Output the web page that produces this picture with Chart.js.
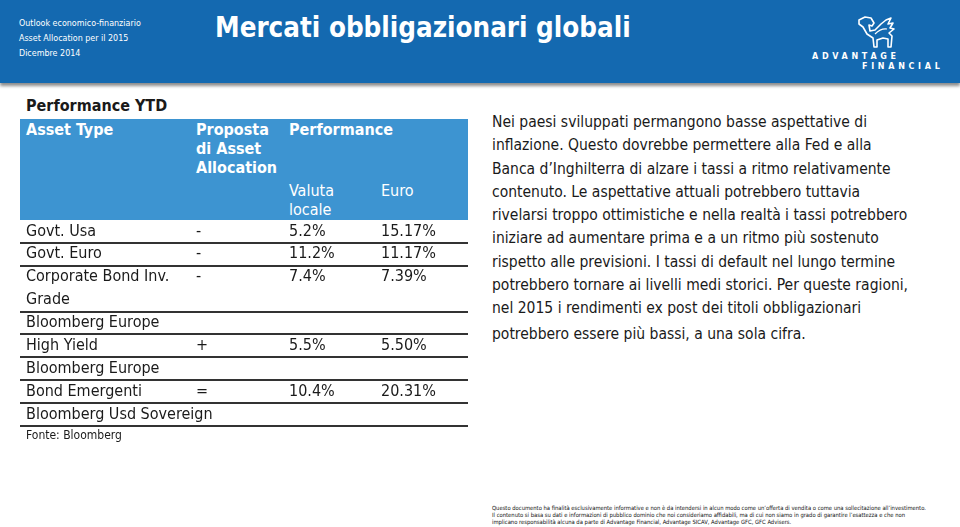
<!DOCTYPE html>
<html>
<head>
<meta charset="utf-8">
<script src="https://cdn.jsdelivr.net/npm/chart.js@4.4.1/dist/chart.umd.min.js"></script>
<style>
  body { margin: 0; width: 960px; height: 527px; background: #fff; position: relative; overflow: hidden;
         font-family: "DejaVu Sans Condensed", "DejaVu Sans", sans-serif; color: #1a1a1a; }
  .abs { position: absolute; white-space: nowrap; }
  #topbar { left: 0; top: 0; width: 960px; height: 83px; background: #1469b0;
            box-shadow: 0 3px 3px rgba(0,0,0,0.45); }
  .small { color: #fff; font-size: 8.9px; line-height: 15px; }
  #title { left: 215px; top: 8px; color: #fff; font-size: 27.5px; font-weight: bold; line-height: 38px; }
  .logo { color: #fff; font-weight: bold; font-size: 8px; letter-spacing: 3.7px; font-family: "DejaVu Sans", sans-serif; }
  #thead { left: 20px; top: 119px; width: 448px; height: 101px; background: #3d94d1; }
  .th { color: #fff; font-size: 16px; line-height: 19px; }
  .b { font-weight: bold; }
  #note { left: 492px; top: 111px; font-size: 15.5px; line-height: 23.3px; color: #1a1a1a; }
  #disc { left: 492px; top: 505px; font-size: 5.82px; line-height: 7.2px; color: #111; }
</style>
</head>
<body>
<div id="topbar" class="abs"></div>
<div class="abs small" style="left:19px; top:16px;">Outlook economico-finanziario<br>Asset Allocation per il 2015<br>Dicembre 2014</div>
<div id="title" class="abs">Mercati obbligazionari globali</div>
<svg class="abs" style="left:855px; top:14px;" width="46" height="38" viewBox="0 0 46 38">
  <path d="M4 6 L10 3 L16 4 L19 9 L17 12 L14 11 L15 17 L20 16 L26 10 L31 6 L36 4 L33 10 L38 9 L35 14 L39 15 L34 19 L37 22 L36 33 L33 33 L33 25 L28 24 L22 26 L22 33 L19 33 L18 24 L12 20 L8 13 L4 10 Z"
        fill="none" stroke="#fff" stroke-width="1.6" stroke-linejoin="round"/>
  <path d="M20 20 Q26 14 32 15" fill="none" stroke="#fff" stroke-width="1.2"/>
</svg>
<div class="abs logo" style="left:812px; top:52px;">ADVANTAGE</div>
<div class="abs logo" style="left:862px; top:62px;">FINANCIAL</div>

<div class="abs b" style="left:26px; top:96px; font-size:16px; line-height:20px;">Performance YTD</div>
<div id="thead" class="abs"></div>
<div class="abs th b" style="left:26px; top:120px;">Asset Type</div>
<div class="abs th b" style="left:196px; top:120px;">Proposta<br>di Asset<br>Allocation</div>
<div class="abs th b" style="left:289px; top:120px;">Performance</div>
<div class="abs th" style="left:289px; top:181px;">Valuta<br>locale</div>
<div class="abs th" style="left:381px; top:181px;">Euro</div>

<canvas id="tabella" class="abs" width="448" height="212" style="left:20px; top:218px;"></canvas>
<div class="abs" style="left:26px; top:428px; font-size:12px; line-height:15px;">Fonte: Bloomberg</div>

<div id="note" class="abs">Nei paesi sviluppati permangono basse aspettative di<br>inflazione. Questo dovrebbe permettere alla Fed e alla<br>Banca d’Inghilterra di alzare i tassi a ritmo relativamente<br>contenuto. Le aspettative attuali potrebbero tuttavia<br>rivelarsi troppo ottimistiche e nella realtà i tassi potrebbero<br>iniziare ad aumentare prima e a un ritmo più sostenuto<br>rispetto alle previsioni. I tassi di default nel lungo termine<br>potrebbero tornare ai livelli medi storici. Per queste ragioni,<br>nel 2015 i rendimenti ex post dei titoli obbligazionari<br><span style="position:relative; top:2px;">potrebbero essere più bassi, a una sola cifra.</span></div>

<div id="disc" class="abs">Questo documento ha finalità esclusivamente informative e non è da intendersi in alcun modo come un’offerta di vendita o come una sollecitazione all’investimento.<br>Il contenuto si basa su dati e informazioni di pubblico dominio che noi consideriamo affidabili, ma di cui non siamo in grado di garantire l’esattezza e che non<br>implicano responsabilità alcuna da parte di Advantage Financial, Advantage SICAV, Advantage GFC, GFC Advisers.</div>

<script>
// righe della tabella (una per riga di testo)
var righe = ["Govt. Usa", "Govt. Euro", "Corporate Bond Inv.", "Grade", "Bloomberg Europe",
             "High Yield", "Bloomberg Europe", "Bond Emergenti", "Bloomberg Usd Sovereign"];
var proposta = ["-", "-", "-", "", "", "+", "", "=", ""];
var valutaLocale = [5.2, 11.2, 7.4, null, null, 5.5, null, 10.4, null];
var euro = [15.17, 11.17, 7.39, null, null, 5.50, null, 20.31, null];
// righe sopra le quali c'e' una linea di separazione
var conLinea = [1, 2, 4, 5, 6, 7, 8];

var colonne = { asset: 6, proposta: 176, valuta: 269, euro: 361 };

var pluginCelle = {
    id: "celle",
    afterDraw: function (chart) {
        var c = chart.ctx;
        var y = chart.scales.y;
        var left = chart.chartArea.left;
        c.save();
        c.font = "16px 'DejaVu Sans Condensed', 'DejaVu Sans', sans-serif";
        c.fillStyle = "#1a1a1a";
        c.textBaseline = "middle";
        c.textAlign = "left";
        for (var i = 0; i < righe.length; i++) {
            var py = y.getPixelForValue(i);
            c.fillText(y.getLabelForValue(i), left + colonne.asset, py);
            if (proposta[i]) c.fillText(proposta[i], left + colonne.proposta, py);
            if (valutaLocale[i] !== null) c.fillText(valutaLocale[i].toFixed(1) + "%", left + colonne.valuta, py);
            if (euro[i] !== null) c.fillText(euro[i].toFixed(2) + "%", left + colonne.euro, py);
        }
        c.restore();
    }
};

new Chart(document.getElementById("tabella").getContext("2d"), {
    type: "bar",
    data: { labels: righe, datasets: [] },
    options: {
        indexAxis: "y",
        responsive: false,
        animation: false,
        layout: { padding: { top: 2, bottom: 4, left: 0, right: 0 } },
        plugins: { legend: { display: false }, tooltip: { enabled: false } },
        scales: {
            x: { display: false, min: 0, max: 1 },
            y: {
                type: "category",
                offset: true,
                border: { display: false },
                grid: {
                    offset: true,
                    drawTicks: false,
                    lineWidth: 2,
                    color: function (ctx) {
                        if (ctx.index === undefined) return "#333";
                        return conLinea.indexOf(ctx.index) >= 0 ? "#333" : "rgba(0,0,0,0)";
                    }
                },
                ticks: { display: false }
            }
        }
    },
    plugins: [pluginCelle]
});
</script>
</body>
</html>
